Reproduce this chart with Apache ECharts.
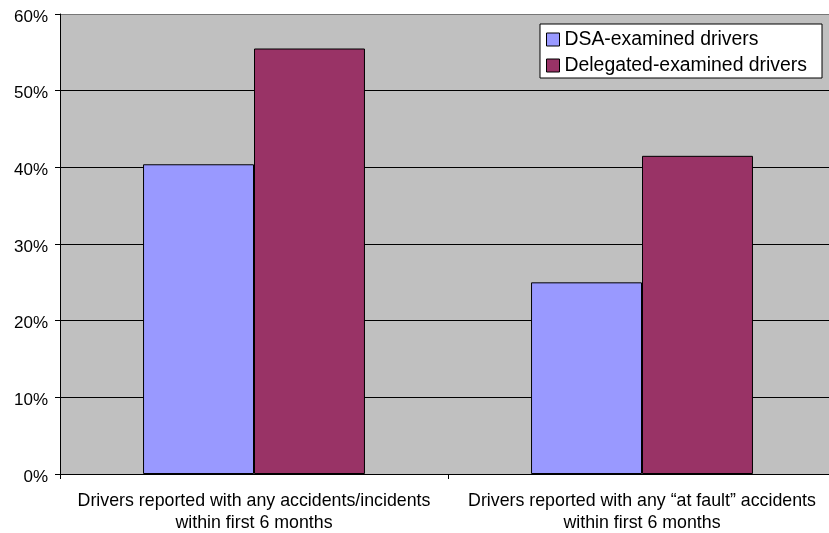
<!DOCTYPE html>
<html><head><meta charset="utf-8">
<script src="https://cdn.jsdelivr.net/npm/echarts@6/dist/echarts.min.js"></script>
<style>html,body{margin:0;padding:0;background:#fff}#c{width:829px;height:533px}</style>
</head><body><div id="c"></div>
<script>
const categories = ["Drivers reported with any accidents/incidents\nwithin first 6 months", "Drivers reported with any \u201cat fault\u201d accidents\nwithin first 6 months"];
const seriesNames = ["DSA-examined drivers", "Delegated-examined drivers"];
const dsaValues = [40.4, 25.0];
const delegatedValues = [55.5, 41.5];
const yTicks = [0, 10, 20, 30, 40, 50, 60];

const chart = echarts.init(document.getElementById('c'), null, {renderer: 'canvas'});
const font = 'Liberation Sans, Arial, sans-serif';
chart.setOption({
  animation: false,
  grid: {left: 60, width: 776, top: 14, height: 460, outerBoundsMode: 'none', containLabel: false, show: true, backgroundColor: '#C0C0C0', borderWidth: 0},
  legend: {
    data: seriesNames, orient: 'vertical', left: 540, top: 24,
    backgroundColor: '#fff', borderColor: '#000', borderWidth: 1,
    padding: [6, 15, 3, 6], itemGap: 7, itemWidth: 13, itemHeight: 13,
    icon: 'rect',
    itemStyle: {borderColor: '#000', borderWidth: 1},
    textStyle: {fontFamily: font, fontSize: 19.4, color: '#000', padding: [0, 0, 0, 0]}
  },
  xAxis: {
    type: 'category', data: categories,
    axisLine: {lineStyle: {color: '#000', width: 1}},
    axisTick: {show: true, length: 5, lineStyle: {color: '#000'}},
    axisLabel: {interval: 0, hideOverlap: false, fontFamily: font, fontSize: 17.8, color: '#000', margin: 16, lineHeight: 22}
  },
  yAxis: {
    type: 'value', min: yTicks[0], max: yTicks[yTicks.length-1], interval: 10,
    axisLine: {show: true, lineStyle: {color: '#000'}},
    axisTick: {show: true, length: 5, lineStyle: {color: '#000'}},
    axisLabel: {
      formatter: v => '{a|' + v + '%}', margin: 12,
      rich: {a: {fontFamily: font, fontSize: 17, color: '#000', padding: [6, 0, 0, 0]}}
    },
    splitLine: {lineStyle: {color: ['#000', '#000', '#000', '#000', '#000', '#000', '#777'], width: 1}}
  },
  series: [
    {name: seriesNames[0], type: 'bar', data: dsaValues, barGap: '0%', barCategoryGap: '42.8%',
     itemStyle: {color: '#9999FF', borderColor: '#000', borderWidth: 1}},
    {name: seriesNames[1], type: 'bar', data: delegatedValues,
     itemStyle: {color: '#993366', borderColor: '#000', borderWidth: 1}}
  ]
});
</script></body></html>
